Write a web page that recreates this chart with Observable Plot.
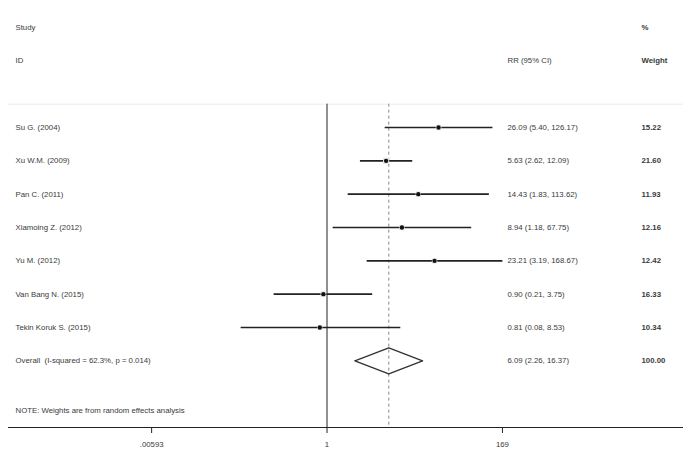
<!DOCTYPE html>
<html>
<head>
<meta charset="utf-8">
<script src="https://cdn.jsdelivr.net/npm/d3@7"></script>
<script src="https://cdn.jsdelivr.net/npm/@observablehq/plot@0.6"></script>
<style>
  html, body { margin: 0; padding: 0; background: #fff; }
  svg { display: block; }
</style>
</head>
<body>
<div id="chart"></div>
<script>
// ---- data ----
const studies = ["Su G. (2004)", "Xu W.M. (2009)", "Pan C. (2011)", "Xiamoing Z. (2012)", "Yu M. (2012)", "Van Bang N. (2015)", "Tekin Koruk S. (2015)"];
const rr      = [26.09, 5.63, 14.43, 8.94, 23.21, 0.90, 0.81];
const lower   = [5.40, 2.62, 1.83, 1.18, 3.19, 0.21, 0.08];
const upper   = [126.17, 12.09, 113.62, 67.75, 168.67, 3.75, 8.53];
const weights = ["15.22", "21.60", "11.93", "12.16", "12.42", "16.33", "10.34"];
const overallLabel = "Overall  (I-squared = 62.3%, p = 0.014)";
const overall = {rr: 6.09, lower: 2.26, upper: 16.37, weight: "100.00"};
const ciText = ["26.09 (5.40, 126.17)", "5.63 (2.62, 12.09)", "14.43 (1.83, 113.62)", "8.94 (1.18, 67.75)", "23.21 (3.19, 168.67)", "0.90 (0.21, 3.75)", "0.81 (0.08, 8.53)"];
const overallCiText = "6.09 (2.26, 16.37)";
const tickValues = [0.00593, 1, 169];
const tickLabels = [".00593", "1", "169"];
const note = "NOTE: Weights are from random effects analysis";

// rows: index 0..6 studies, 7 overall; headers at -3 / -2; note at 8.5; axis at 9
const rows = studies.map((s, i) => ({
  study: s, rr: rr[i], lo: lower[i], hi: upper[i], w: +weights[i], wt: weights[i], ci: ciText[i], row: i
}));
const allRows = [...rows, {study: overallLabel, ci: overallCiText, wt: overall.weight, row: 7}];

// log scale anchoring: 1 maps to ~326.5, ticks span .00593..169
const pxPerLn = 34.2;
const x0 = 326.5, left = 8, right = 683;
const lnLo = (left - x0) / pxPerLn, lnHi = (right - x0) / pxPerLn;
const xDomain = [Math.exp(lnLo), Math.exp(lnHi)];

const half = 0.39;
const diamond = [
  {x: overall.lower, y: 7},
  {x: overall.rr, y: 7 - half},
  {x: overall.upper, y: 7},
  {x: overall.rr, y: 7 + half},
  {x: overall.lower, y: 7}
];

const font = "Liberation Sans, Arial, sans-serif";
const fs = 7.8;
const txt = "#3a3a3a";

const chart = Plot.plot({
  width: 691,
  height: 464,
  marginLeft: left,
  marginRight: 691 - right,
  marginTop: 27,
  marginBottom: 37,
  style: {fontFamily: font, fontSize: fs + "px", background: "#fff", color: txt},
  x: {type: "log", domain: xDomain, axis: null},
  y: {type: "linear", domain: [-3, 9], reverse: true, axis: null},
  marks: [
    Plot.ruleY([-0.7], {stroke: "#ececec", strokeWidth: 1}),
    Plot.ruleX([1], {y1: -0.7, y2: 9, stroke: "#222", strokeWidth: 1}),
    Plot.ruleX([overall.rr], {y1: -0.7, y2: 9, stroke: "#888", strokeWidth: 1, strokeDasharray: "3,3"}),
    Plot.link(rows, {x1: "lo", x2: "hi", y1: "row", y2: "row", stroke: "#222", strokeWidth: 1.6}),
    Plot.dot(rows, {x: "rr", y: "row", symbol: "square", r: d => Math.sqrt(d.w) * 0.75, fill: "#e2e6e6", stroke: "none"}),
    Plot.dot(rows, {x: "rr", y: "row", r: 2.2, fill: "#111", stroke: "none"}),
    Plot.line(diamond, {x: "x", y: "y", stroke: "#333", strokeWidth: 1.4, fill: "none"}),
    Plot.ruleY([9], {stroke: "#222", strokeWidth: 1.2}),
    Plot.ruleX(tickValues, {y1: 9, y2: 9.18, stroke: "#222", strokeWidth: 1}),
    Plot.text(tickValues, {x: d => d, y: 9.5, text: (d, i) => tickLabels[i], fill: txt, fontSize: fs}),
    Plot.text(["Study"], {frameAnchor: "left", y: -3, dx: 7, text: d => d, textAnchor: "start", fill: txt}),
    Plot.text(["ID"], {frameAnchor: "left", y: -2, dx: 7, text: d => d, textAnchor: "start", fill: txt}),
    Plot.text(["RR (95% CI)"], {frameAnchor: "left", y: -2, dx: 499, text: d => d, textAnchor: "start", fill: txt}),
    Plot.text(["%"], {frameAnchor: "left", y: -3, dx: 633, text: d => d, textAnchor: "start", fill: txt, fontWeight: "bold"}),
    Plot.text(["Weight"], {frameAnchor: "left", y: -2, dx: 633, text: d => d, textAnchor: "start", fill: txt, fontWeight: "bold"}),
    Plot.text(allRows, {frameAnchor: "left", y: "row", dx: 7, text: "study", textAnchor: "start", fill: txt}),
    Plot.text(allRows, {frameAnchor: "left", y: "row", dx: 499, text: "ci", textAnchor: "start", fill: txt}),
    Plot.text(allRows, {frameAnchor: "left", y: "row", dx: 633, text: "wt", textAnchor: "start", fill: txt, fontWeight: "bold"}),
    Plot.text([note], {frameAnchor: "left", y: 8.5, dx: 7, text: d => d, textAnchor: "start", fill: txt})
  ]
});
document.getElementById("chart").appendChild(chart);
</script>
</body>
</html>
